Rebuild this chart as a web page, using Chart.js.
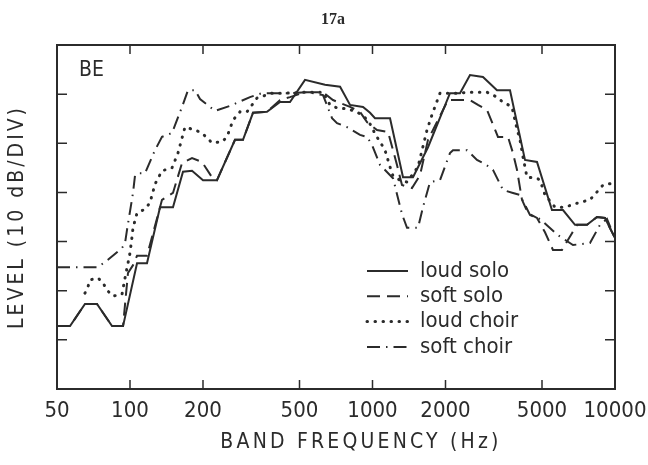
<!DOCTYPE html>
<html>
<head>
  <title>17a BE</title>
  <script src="https://cdn.jsdelivr.net/npm/chart.js"></script>
</head>
<body style="margin:0;background:#fff;">
  <div style="position:relative;width:648px;height:465px;">
    <canvas id="chart"></canvas>
  </div>

  <script>
    // values: band frequency (Hz) and level (dB, 10 dB per division)
    const loudSoloHz = [50, 56.6, 65.2, 73.1, 84.3, 93.6, 106.9, 117.5, 133, 150.4, 165.4, 180.2, 200, 228.4, 271, 292.4, 321.5, 367.2, 415.5, 456.9, 526.8, 637, 735, 808, 914, 977, 1024, 1181, 1336, 1469, 1694, 2087, 2295, 2524, 2855, 3261, 3690, 4254, 4768, 5496, 6102, 6840, 7666, 8428, 9094, 10000];
    const loudSoloDb = [12.8, 12.8, 17.3, 17.3, 12.8, 12.8, 25.6, 25.6, 37.0, 37.0, 44.2, 44.4, 42.5, 42.5, 50.7, 50.7, 56.2, 56.4, 58.4, 58.4, 62.9, 61.9, 61.5, 57.8, 57.4, 56.2, 55.1, 55.1, 43.1, 43.1, 49.2, 60.2, 60.2, 63.9, 63.5, 60.8, 60.8, 46.6, 46.2, 36.4, 36.4, 33.4, 33.4, 35.0, 34.8, 30.7];

    const softSoloHz = [50, 56.6, 65.2, 73.1, 84.3, 93.6, 98.1, 102.9, 106.9, 117.5, 135.5, 150.4, 163.9, 180.2, 198.1, 217.8, 228.4, 271, 292.4, 321.5, 367.2, 415.5, 456.9, 526.8, 625, 687, 808, 888, 949, 1044, 1159, 1262, 1323, 1455, 1570, 1694, 2048, 2524, 2723, 2965, 3292, 3620, 3796, 3943, 4135, 4377, 4768, 5144, 5548, 6044, 6647, 6972, 7666, 8428, 9094, 10000];
    const softSoloDb = [12.8, 12.8, 17.3, 17.3, 12.8, 12.8, 23.6, 25.2, 27.1, 27.1, 38.5, 39.9, 46.0, 47.0, 46.2, 43.1, 42.5, 50.7, 50.7, 56.2, 56.4, 58.8, 59.4, 60.4, 60.4, 58.8, 57.4, 56.4, 54.3, 52.7, 52.3, 45.6, 41.5, 40.9, 43.5, 50.7, 58.8, 58.8, 57.8, 56.8, 51.3, 51.3, 48.0, 44.6, 38.5, 35.8, 34.8, 31.9, 28.3, 28.3, 31.7, 33.4, 33.4, 35.0, 34.8, 30.7];

    const loudChoirHz = [65.2, 67.1, 68.4, 73.8, 77.4, 80.4, 85.1, 92.7, 95.4, 98.1, 100, 101.9, 102.9, 106.9, 115.3, 120.9, 126.8, 135.5, 149, 157.7, 168.6, 185.4, 198.1, 217.8, 239.5, 251.2, 265.9, 284.2, 303.7, 334, 385.1, 444, 537, 625, 668, 714, 785, 863, 949, 995, 1024, 1074, 1126, 1181, 1215, 1298, 1388, 1540, 1678, 1759, 1898, 2231, 2524, 2965, 3200, 3452, 3760, 3943, 4057, 4175, 4336, 4768, 4906, 5144, 5656, 6219, 6972, 7886, 8428, 8923, 9811, 10000];
    const loudChoirDb = [19.5, 20.8, 22.2, 22.6, 21.6, 20.1, 18.9, 19.3, 22.6, 25.6, 27.7, 30.9, 32.8, 35.8, 36.6, 37.9, 41.7, 44.4, 45.0, 48.0, 53.3, 52.7, 52.1, 50.1, 50.3, 51.3, 54.7, 56.4, 56.4, 59.2, 60.2, 60.2, 60.4, 60.4, 57.8, 57.2, 57.0, 56.4, 54.9, 53.3, 51.9, 50.3, 48.6, 45.2, 43.3, 42.5, 42.1, 45.2, 52.7, 55.8, 60.2, 60.2, 60.4, 60.4, 59.6, 58.4, 57.4, 52.9, 50.7, 47.2, 43.1, 42.9, 42.5, 39.5, 37.0, 37.0, 37.8, 38.5, 40.1, 41.5, 41.9, 41.9];

    const softChoirHz = [50, 73.8, 81.1, 92.7, 95.4, 97.2, 102.9, 104.9, 107.9, 115.3, 126.8, 135.5, 149, 163.9, 173.4, 185.4, 194.4, 224.1, 258.4, 312.5, 350.2, 456.9, 542, 625, 681, 714, 785, 888, 949, 995, 1074, 1215, 1323, 1388, 1540, 1615, 1726, 1898, 2087, 2147, 2453, 2697, 2910, 3139, 3452, 3796, 4057, 4461, 4906, 5819, 6711, 7886, 8671, 9266, 10000];
    const softChoirDb = [24.8, 24.8, 26.3, 28.7, 29.7, 32.4, 39.9, 43.5, 43.9, 43.9, 48.6, 51.3, 52.1, 57.4, 60.8, 60.8, 59.0, 56.6, 57.6, 59.4, 60.2, 60.2, 60.4, 59.8, 55.1, 54.1, 53.3, 51.7, 51.3, 49.7, 45.6, 42.9, 35.6, 32.8, 32.8, 37.0, 42.1, 42.5, 48.0, 48.6, 48.6, 46.6, 45.8, 44.6, 40.5, 39.9, 39.5, 35.4, 34.6, 31.3, 29.3, 29.7, 33.4, 34.6, 30.7];

    const seriesNames = ["loud solo", "soft solo", "loud choir", "soft choir"];
    const xTickValues = [50, 100, 200, 500, 1000, 2000, 5000, 10000];

    const INK = "#2b2b2b";
    const NARROW = '"Liberation Sans Narrow", "DejaVu Sans Condensed", "Arial Narrow", sans-serif';

    function pts(xs, ys) {
      return xs.map((x, i) => ({ x: x, y: ys[i] }));
    }

    const styles = [
      { borderDash: [], borderWidth: 2 },
      { borderDash: [13, 7], borderWidth: 2 },
      { borderDash: [0.5, 7.5], borderWidth: 3, borderCapStyle: "round" },
      { borderDash: [13, 6, 1.5, 6], borderWidth: 2 }
    ];
    const sets = [
      pts(loudSoloHz, loudSoloDb),
      pts(softSoloHz, softSoloDb),
      pts(loudChoirHz, loudChoirDb),
      pts(softChoirHz, softChoirDb)
    ];

    const decor = {
      id: "decor",
      afterDatasetsDraw(chart) {
        const { ctx, chartArea: a, scales: { x, y } } = chart;
        ctx.save();
        ctx.strokeStyle = INK;
        ctx.fillStyle = INK;
        ctx.lineWidth = 2;
        ctx.strokeRect(a.left, a.top, a.right - a.left, a.bottom - a.top);

        // inward tick marks on all four sides
        ctx.lineWidth = 1.5;
        ctx.beginPath();
        for (let v = 10; v < 70; v += 10) {
          const py = y.getPixelForValue(v);
          ctx.moveTo(a.left, py); ctx.lineTo(a.left + 10, py);
          ctx.moveTo(a.right, py); ctx.lineTo(a.right - 10, py);
        }
        xTickValues.slice(1, -1).forEach(v => {
          const px = x.getPixelForValue(v);
          ctx.moveTo(px, a.top); ctx.lineTo(px, a.top + 9);
          ctx.moveTo(px, a.bottom); ctx.lineTo(px, a.bottom - 9);
        });
        ctx.stroke();

        // legend
        ctx.textBaseline = "middle";
        ctx.textAlign = "left";
        ctx.font = "22px " + NARROW;
        seriesNames.forEach((name, i) => {
          const ds = chart.data.datasets[i];
          const ly = 271 + i * 25.3;
          ctx.beginPath();
          ctx.setLineDash(ds.borderDash);
          ctx.lineCap = ds.borderCapStyle || "butt";
          ctx.lineWidth = ds.borderWidth;
          ctx.moveTo(367, ly); ctx.lineTo(408, ly);
          ctx.stroke();
          ctx.fillText(name, 420, ly);
        });
        ctx.setLineDash([]);

        // panel label
        ctx.font = "21px " + NARROW;
        ctx.fillText("BE", 79, 71);

        // figure number
        ctx.textAlign = "center";
        ctx.font = "bold 16px 'Liberation Serif', serif";
        ctx.fillText("17a", 333, 20);

        // axis titles
        ctx.font = "21px " + NARROW;
        ctx.letterSpacing = "3.2px";
        ctx.fillText("BAND FREQUENCY (Hz)", 361, 443);
        ctx.translate(18, 217);
        ctx.rotate(-Math.PI / 2);
        ctx.letterSpacing = "3px";
        ctx.fillText("LEVEL (10 dB/DIV)", 0, 0);
        ctx.restore();
      }
    };

    new Chart(document.getElementById("chart"), {
      type: "line",
      data: {
        datasets: sets.map((d, i) => Object.assign({
          label: seriesNames[i],
          data: d,
          borderColor: INK,
          pointRadius: 0,
          tension: 0,
          fill: false
        }, styles[i]))
      },
      options: {
        responsive: true,
        maintainAspectRatio: false,
        animation: false,
        layout: { padding: { top: 45, right: 33, left: 0, bottom: 0 } },
        plugins: { legend: { display: false }, tooltip: { enabled: false } },
        scales: {
          x: {
            type: "logarithmic",
            min: 50,
            max: 10000,
            afterBuildTicks: s => { s.ticks = xTickValues.map(v => ({ value: v })); },
            afterFit: s => { s.height = 76; s.paddingLeft = 0; s.paddingRight = 0; },
            grid: { display: false, drawTicks: false },
            border: { display: false },
            ticks: {
              autoSkip: false,
              maxRotation: 0,
              padding: 9,
              color: INK,
              font: { family: NARROW, size: 22 },
              callback: v => String(v)
            }
          },
          y: {
            min: 0,
            max: 70,
            afterFit: s => { s.width = 57; },
            grid: { display: false, drawTicks: false },
            border: { display: false },
            ticks: { display: false, stepSize: 10 }
          }
        }
      },
      plugins: [decor]
    });
  </script>
</body>
</html>
